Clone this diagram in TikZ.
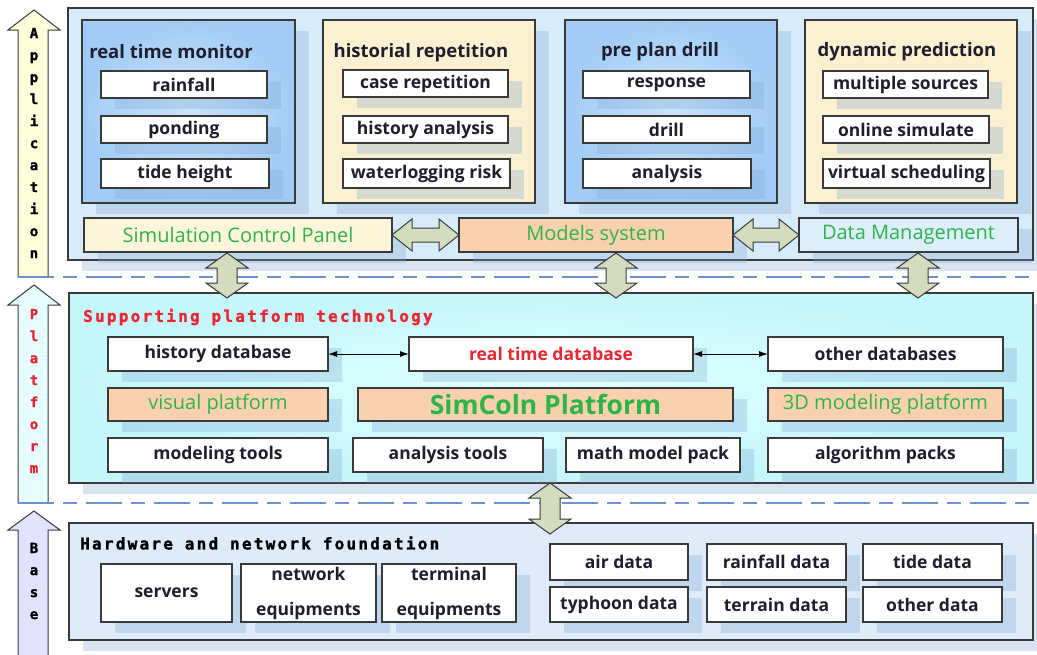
\documentclass[tikz,border=0pt]{standalone}
\usepackage{fontspec}
\setmainfont{Open Sans}
\newfontfamily\pixfont[LetterSpace=14,BoldFeatures={FakeBold=1.5}]{DejaVu Sans Mono}
\usetikzlibrary{shadows,arrows.meta}
\definecolor{bordc}{HTML}{3A3A3A}
\definecolor{appbg}{HTML}{D6ECFA}
\definecolor{bluein}{HTML}{CAE4FB}
\definecolor{blueout}{HTML}{A2CCF5}
\definecolor{yellp}{HTML}{FBF0CF}
\definecolor{scp}{HTML}{FDF5D9}
\definecolor{peach}{HTML}{FAD1AE}
\definecolor{dmg}{HTML}{DCEFFB}
\definecolor{gtext}{HTML}{2DB44A}
\definecolor{rtext}{HTML}{EE2530}
\definecolor{fatc}{HTML}{D3DDBE}
\definecolor{platin}{HTML}{E2FFFF}
\definecolor{platout}{HTML}{C4F6FB}
\definecolor{basebg}{HTML}{DDEBFA}
\definecolor{shc}{HTML}{7FA6D2}
\definecolor{dashc}{HTML}{6C93CF}
\definecolor{txt}{HTML}{1E1E2E}
\definecolor{arrA}{HTML}{FFFFDC}
\definecolor{arrP}{HTML}{E6FEFF}
\definecolor{arrB}{HTML}{E2E2FF}
\newcommand\bx[7]{\node[#6,anchor=north west,minimum width={#4-#2},minimum height={#5-#3}] (#1) at (#2,#3) {#7};}
\newcommand\vdarr[3]{\draw[fatarrow] (#1,#2) -- ({#1+21},{#2+15}) -- ({#1+10},{#2+15}) -- ({#1+10},{#3-15}) -- ({#1+21},{#3-15}) -- (#1,#3) -- ({#1-21},{#3-15}) -- ({#1-10},{#3-15}) -- ({#1-10},{#2+15}) -- ({#1-21},{#2+15}) -- cycle;}
\newcommand\hdarr[3]{\draw[fatarrow] (#1,#3) -- ({#1+20},{#3-16}) -- ({#1+20},{#3-7}) -- ({#2-20},{#3-7}) -- ({#2-20},{#3-16}) -- (#2,#3) -- ({#2-20},{#3+16}) -- ({#2-20},{#3+7}) -- ({#1+20},{#3+7}) -- ({#1+20},{#3+16}) -- cycle;}
\begin{document}
\begin{tikzpicture}[x=1pt,y=-1pt,
  box/.style={draw=bordc,line width=1.3pt,inner sep=0pt,outer sep=0pt,fill=white,text=txt,font=\bfseries\fontsize{17.5}{19}\selectfont},
  shad/.style={drop shadow={shadow xshift=14pt,shadow yshift=-11pt,fill=shc,opacity=0.3}},
  panel/.style={box,shad},
  bpanel/.style={box,shad,inner color=bluein,outer color=blueout},
  ibox/.style={box,shad},
  gbox/.style={box,shad,text=gtext,font=\fontsize{20}{22}\selectfont},
  ttl/.style={text=txt,font=\bfseries\fontsize{18.5}{20}\selectfont,inner sep=0pt},
  fatarrow/.style={draw=bordc,line width=1pt,fill=fatc,line join=miter},
  bigarrow/.style={draw=bordc,line width=1pt,line join=miter},
  pix/.style={font=\pixfont\bfseries\fontsize{16}{18}\selectfont,inner sep=0pt},
  vlet/.style={font=\pixfont\bfseries\fontsize{14}{22}\selectfont,align=center,inner sep=0pt},
  dashl/.style={draw=dashc,line width=1.5pt,dash pattern=on 36pt off 9pt on 14pt off 9pt},
  biar/.style={{Latex[length=9pt,width=6pt]}-{Latex[length=9pt,width=6pt]},line width=1pt,draw=black}]
\useasboundingbox (0,0) rectangle (1037,654);
\fill[white] (0,0) rectangle (1037,654);
% left arrows
\draw[bigarrow,fill=arrA] (34,10) -- (60,30) -- (48,30) -- (48,277) -- (18,277) -- (18,30) -- (8,30) -- cycle;
\draw[bigarrow,fill=arrP] (34,285) -- (60,305) -- (48,305) -- (48,503) -- (18,503) -- (18,305) -- (8,305) -- cycle;
\draw[bigarrow,fill=arrB] (34,511) -- (60,530) -- (48,530) -- (48,664) -- (18,664) -- (18,530) -- (8,530) -- cycle;
\node[vlet,text=black] (lA) at (34,143) {A\\p\\p\\l\\i\\c\\a\\t\\i\\o\\n};
\node[vlet,text=rtext] (lP) at (34,391) {P\\l\\a\\t\\f\\o\\r\\m};
\node[vlet,text=black] (lB) at (34,581) {B\\a\\s\\e};
% dashed separators
\coordinate (d1a) at (18,277); \coordinate (d1b) at (1037,277);
\coordinate (d2a) at (18,503); \coordinate (d2b) at (1037,503);
\draw[dashl] (d1a) -- (d1b);
\draw[dashl] (d2a) -- (d2b);
% application layer
\bx{app}{68}{8}{1033}{260}{panel,fill=appbg}{}
\bx{p1}{82}{20}{295}{203}{bpanel}{}
\bx{p2}{323}{20}{535}{203}{panel,fill=yellp}{}
\bx{p3}{565}{20}{777}{203}{bpanel}{}
\bx{p4}{805}{20}{1017}{203}{panel,fill=yellp}{}
\node[ttl] (t1) at (171,52) {real time monitor};
\node[ttl] (t2) at (421,53) {historial repetition};
\node[ttl] (t3) at (660,52) {pre plan drill};
\node[ttl] (t4) at (907,52) {dynamic prediction};
\bx{b11}{101}{71}{267}{98}{ibox}{rainfall}
\bx{b12}{101}{116}{267}{143}{ibox}{ponding}
\bx{b13}{101}{159}{269}{188}{ibox}{tide height}
\bx{b21}{343}{70}{508}{97}{ibox}{case repetition}
\bx{b22}{343}{116}{508}{143}{ibox}{history analysis}
\bx{b23}{343}{159}{510}{188}{ibox}{waterlogging risk}
\bx{b31}{583}{71}{750}{98}{ibox}{response}
\bx{b32}{583}{116}{750}{143}{ibox}{drill}
\bx{b33}{583}{159}{751}{188}{ibox}{analysis}
\bx{b41}{823}{71}{988}{98}{ibox}{multiple sources}
\bx{b42}{823}{116}{989}{143}{ibox}{online simulate}
\bx{b43}{823}{159}{990}{188}{ibox}{virtual scheduling}
\bx{scp}{84}{218}{392}{252}{gbox,fill=scp}{Simulation Control Panel}
\bx{mod}{459}{218}{733}{252}{gbox,fill=peach}{Models system}
\bx{dm}{799}{218}{1018}{252}{gbox,fill=dmg}{Data Management}
\hdarr{392}{459}{235}
\hdarr{733}{799}{235}
% platform layer
\bx{plat}{69}{293}{1033}{483}{panel,inner color=platin,outer color=platout}{}
\node[pix,text=rtext,anchor=west] (ptitle) at (83,317) {Supporting platform technology};
\bx{hdb}{108}{337}{328}{371}{ibox}{history database}
\bx{rtdb}{409}{337}{693}{371}{ibox,text=rtext}{real time database}
\bx{odb}{768}{337}{1003}{371}{ibox}{other databases}
\draw[biar] (hdb.east) -- (rtdb.west);
\draw[biar] (rtdb.east) -- (odb.west);
\bx{vis}{108}{388}{328}{421}{gbox,fill=peach}{visual platform}
\bx{sim}{358}{388}{733}{421}{gbox,fill=peach,font=\bfseries\fontsize{26.5}{28}\selectfont}{SimColn Platform}
\bx{tdm}{768}{388}{1003}{421}{gbox,fill=peach}{3D modeling platform}
\bx{mt}{108}{438}{328}{472}{ibox}{modeling tools}
\bx{at}{353}{438}{543}{472}{ibox}{analysis tools}
\bx{mmp}{566}{438}{740}{472}{ibox}{math model pack}
\bx{ap}{768}{438}{1003}{472}{ibox}{algorithm packs}
% base layer
\bx{base}{69}{523}{1033}{640}{panel,fill=basebg}{}
\node[pix,text=black,anchor=west] (btitle) at (80,543) {Hardware and network foundation};
\bx{srv}{101}{564}{232}{622}{ibox}{servers}
\bx{net}{241}{564}{376}{622}{ibox,align=center,font=\bfseries\fontsize{17.5}{35}\selectfont}{network\\equipments}
\bx{term}{382}{564}{516}{622}{ibox,align=center,font=\bfseries\fontsize{17.5}{35}\selectfont}{terminal\\equipments}
\bx{air}{550}{544}{688}{580}{ibox}{air data}
\bx{typ}{550}{587}{688}{622}{ibox}{typhoon data}
\bx{rain}{707}{544}{846}{580}{ibox}{rainfall data}
\bx{ter}{707}{587}{846}{622}{ibox}{terrain data}
\bx{tide}{863}{544}{1002}{580}{ibox}{tide data}
\bx{oth}{863}{587}{1002}{622}{ibox}{other data}
% vertical fat arrows
\vdarr{227}{253}{298}
\vdarr{616}{253}{298}
\vdarr{918}{253}{298}
\vdarr{550}{483}{534}
\end{tikzpicture}
\end{document}
